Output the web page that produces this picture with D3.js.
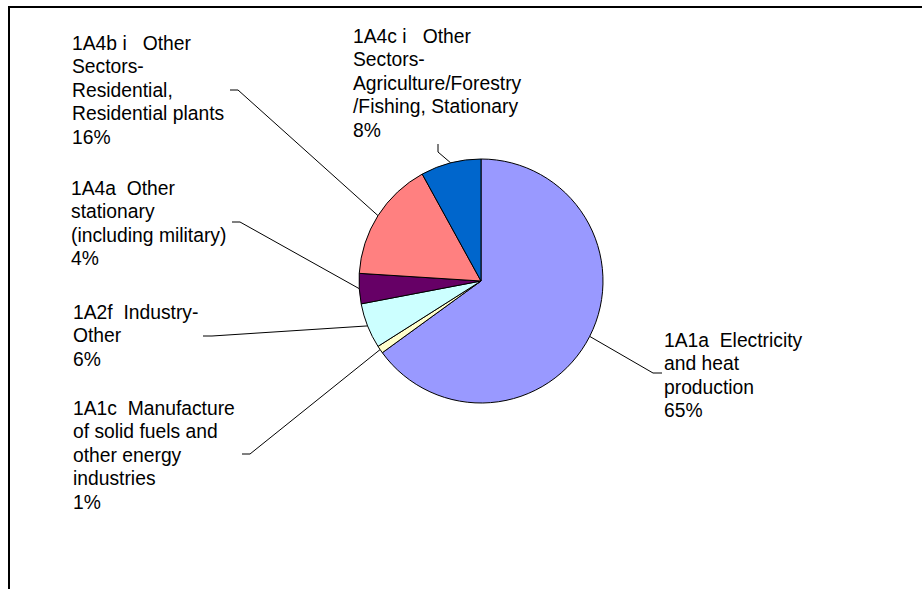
<!DOCTYPE html>
<html>
<head>
<meta charset="utf-8">
<script src="https://cdn.jsdelivr.net/npm/d3@7"></script>
<style>
  html, body { margin: 0; padding: 0; background: #fff; }
  svg { display: block; }
  text { font-family: "Liberation Sans", Arial, sans-serif; font-size: 19.3px; fill: #000; white-space: pre; }
</style>
</head>
<body>
<svg id="chart" width="922" height="589"></svg>
<script>
// Emission sources (share of total, %), clockwise from 12 o'clock
const categories = [
  "1A1a  Electricity and heat production",
  "1A1c  Manufacture of solid fuels and other energy industries",
  "1A2f  Industry-Other",
  "1A4a  Other stationary (including military)",
  "1A4b i   Other Sectors-Residential, Residential plants",
  "1A4c i   Other Sectors-Agriculture/Forestry/Fishing, Stationary"
];
const shares = [65, 1, 6, 4, 16, 8];
const labelLines = [
  ["1A1a  Electricity", "and heat", "production"],
  ["1A1c  Manufacture", "of solid fuels and", "other energy", "industries"],
  ["1A2f  Industry-", "Other"],
  ["1A4a  Other", "stationary", "(including military)"],
  ["1A4b i   Other", "Sectors-", "Residential,", "Residential plants"],
  ["1A4c i   Other", "Sectors-", "Agriculture/Forestry", "/Fishing, Stationary"]
];
const colors = ["#9999FF", "#FFFFCC", "#CCFFFF", "#660066", "#FF8080", "#0066CC"];

// Layout: label block origin, leader elbow and leader tick end
const layout = [
  { x: 664, y: 347, elbow: [653, 373], tick: [662, 373] },
  { x: 73,  y: 415, elbow: [250, 454], tick: [242, 454] },
  { x: 73,  y: 319, elbow: [212, 336], tick: [203, 336] },
  { x: 71,  y: 195, elbow: [240, 222], tick: [232, 222] },
  { x: 72,  y: 50,  elbow: [238, 90],  tick: [230, 90] },
  { x: 353, y: 43,  elbow: [438, 152], tick: [438, 144] }
];
const lineStep = 23.4;

const svg = d3.select("#chart");
const cx = 481, cy = 281, radius = 122;

// Frame edges
svg.append("line").attr("x1", 8).attr("x2", 922).attr("y1", 7).attr("y2", 7)
  .attr("stroke", "#000").attr("stroke-width", 2);
svg.append("line").attr("x1", 9).attr("x2", 9).attr("y1", 6).attr("y2", 589)
  .attr("stroke", "#000").attr("stroke-width", 2);

const data = categories.map((c, i) => ({ name: c, value: shares[i], i }));
const pie = d3.pie().value(d => d.value).sort(null);
const arcs = pie(data);
const arc = d3.arc().innerRadius(0).outerRadius(radius);

const g = svg.append("g").attr("transform", `translate(${cx},${cy})`);
g.selectAll("path.slice").data(arcs).join("path")
  .attr("class", "slice")
  .attr("d", arc)
  .attr("fill", d => colors[d.data.i])
  .attr("stroke", "#000")
  .attr("stroke-width", 1)
  .attr("stroke-linejoin", "round");

// Leader lines from slice edge midpoints to labels
const edge = d3.arc().innerRadius(radius).outerRadius(radius);
svg.selectAll("polyline.leader").data(arcs).join("polyline")
  .attr("class", "leader")
  .attr("fill", "none")
  .attr("stroke", "#000")
  .attr("stroke-width", 1)
  .attr("points", d => {
    const [px, py] = edge.centroid(d);
    const L = layout[d.data.i];
    return [[px + cx, py + cy], L.elbow, L.tick].map(p => p.join(",")).join(" ");
  });

// Labels
const labels = svg.selectAll("text.label").data(arcs).join("text")
  .attr("class", "label")
  .attr("x", d => layout[d.data.i].x)
  .attr("y", d => layout[d.data.i].y);
labels.each(function(d) {
  const t = d3.select(this);
  const L = layout[d.data.i];
  const lines = labelLines[d.data.i].concat([d3.format(".0f")(d.data.value) + "%"]);
  lines.forEach((s, k) => {
    t.append("tspan").attr("x", L.x).attr("y", L.y + k * lineStep).text(s);
  });
});
</script>
</body>
</html>
